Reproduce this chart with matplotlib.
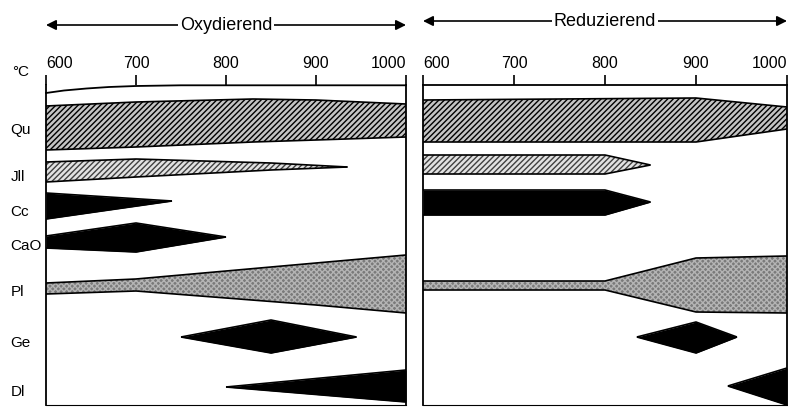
import matplotlib
matplotlib.use("Agg")
import matplotlib.pyplot as plt

plt.rcParams['font.family'] = ['Liberation Sans Narrow', 'Liberation Sans', 'DejaVu Sans']
plt.rcParams['hatch.linewidth'] = 1.0

# temperature axis
temps = [600, 700, 800, 900, 1000]
panel_titles = ["Oxydierend", "Reduzierend"]
phases = ["Qu", "Jll", "Cc", "CaO", "Pl", "Ge", "Dl"]
phase_rows = [45, 92, 127, 161, 207, 258, 307]

# band outlines, y = distance below top line (0 top, 320 bottom)
# oxydierend
qu_ox_t = [600, 700, 830, 900, 1000]
qu_ox_top = [21, 17, 14, 15, 19]
qu_ox_bot = [65, 62, 57, 55, 52]
jll_ox_t = [600, 700, 850, 935]
jll_ox_top = [77, 74, 78, 82]
jll_ox_bot = [97, 92, 85, 82]
cc_ox_t = [600, 740]
cc_ox_top = [108, 116]
cc_ox_bot = [134, 116]
cao_ox_t = [600, 700, 800]
cao_ox_top = [151, 138, 152]
cao_ox_bot = [163, 167, 152]
pl_ox_t = [600, 700, 800, 900, 1000]
pl_ox_top = [198, 194, 186, 178, 170]
pl_ox_bot = [209, 206, 213, 220, 228]
ge_ox_t = [750, 850, 945]
ge_ox_top = [252, 235, 252]
ge_ox_bot = [252, 268, 252]
dl_ox_t = [800, 1000]
dl_ox_top = [302, 285]
dl_ox_bot = [302, 317]
top_curve_t = [600, 620, 645, 670, 700, 750, 1000]
top_curve_y = [8, 5.5, 3.5, 2, 1, 0.3, 0.3]

# reduzierend
qu_red_t = [600, 900, 1000]
qu_red_top = [15, 13, 22]
qu_red_bot = [57, 57, 44]
jll_red_t = [600, 800, 850]
jll_red_top = [70, 70, 80]
jll_red_bot = [89, 89, 80]
cc_red_t = [600, 800, 850]
cc_red_top = [105, 105, 117]
cc_red_bot = [130, 130, 117]
pl_red_t = [600, 800, 900, 1000]
pl_red_top = [196, 196, 173, 171]
pl_red_bot = [205, 205, 227, 228]
ge_red_t = [835, 900, 945]
ge_red_top = [252, 237, 252]
ge_red_bot = [252, 268, 252]
dl_red_t = [935, 1000]
dl_red_top = [301, 283]
dl_red_bot = [301, 320]

styles = {
    "Qu": dict(facecolor="#c4c4c4", edgecolor="black", hatch="//////"),
    "Jll": dict(facecolor="#e2e2e2", edgecolor="#404040", hatch="//////"),
    "Pl": dict(facecolor="#7a7a7a", edgecolor="#b4b4b4", hatch="xxxxxx"),
    "solid": dict(facecolor="black", edgecolor="black"),
}


def band(ax, t, top, bot, style):
    ax.fill_between(t, top, bot, linewidth=0, **styles[style])
    ax.plot(t, top, color="black", lw=1.2, solid_capstyle="butt")
    ax.plot(t, bot, color="black", lw=1.2, solid_capstyle="butt")


fig = plt.figure(figsize=(7.88, 4.08), dpi=100)
ax1 = fig.add_axes([46 / 788, 3 / 408, 360 / 788, 320 / 408])
ax2 = fig.add_axes([423 / 788, 3 / 408, 364 / 788, 320 / 408])

band(ax1, qu_ox_t, qu_ox_top, qu_ox_bot, "Qu")
band(ax1, jll_ox_t, jll_ox_top, jll_ox_bot, "Jll")
band(ax1, cc_ox_t, cc_ox_top, cc_ox_bot, "solid")
band(ax1, cao_ox_t, cao_ox_top, cao_ox_bot, "solid")
band(ax1, pl_ox_t, pl_ox_top, pl_ox_bot, "Pl")
band(ax1, ge_ox_t, ge_ox_top, ge_ox_bot, "solid")
band(ax1, dl_ox_t, dl_ox_top, dl_ox_bot, "solid")
ax1.plot(top_curve_t, top_curve_y, color="black", lw=1.3, clip_on=False)

band(ax2, qu_red_t, qu_red_top, qu_red_bot, "Qu")
band(ax2, jll_red_t, jll_red_top, jll_red_bot, "Jll")
band(ax2, cc_red_t, cc_red_top, cc_red_bot, "solid")
band(ax2, pl_red_t, pl_red_top, pl_red_bot, "Pl")
band(ax2, ge_red_t, ge_red_top, ge_red_bot, "solid")
band(ax2, dl_red_t, dl_red_top, dl_red_bot, "solid")

for ax, title, arrow_y in [(ax1, panel_titles[0], -60), (ax2, panel_titles[1], -64)]:
    ax.set_xlim(600, 1000)
    ax.set_ylim(320, 0)
    ax.xaxis.tick_top()
    ax.set_xticks(temps)
    ax.set_xticklabels([str(t) for t in temps], fontsize=11.5)
    ax.get_xticklabels()[0].set_ha("left")
    ax.get_xticklabels()[-1].set_ha("right")
    ax.tick_params(axis="x", direction="out", length=7, width=1.2, pad=3)
    ax.set_yticks([])
    for s in ax.spines.values():
        s.set_linewidth(1.3)
    ax.spines["bottom"].set_linewidth(0.8)
    ax.annotate("", xy=(1000, arrow_y), xytext=(600, arrow_y), xycoords="data",
                annotation_clip=False,
                arrowprops=dict(arrowstyle="<|-|>", color="black", lw=1.2,
                                mutation_scale=15, shrinkA=0, shrinkB=0))
    ax.text(800, arrow_y, title, ha="center", va="center", fontsize=13,
            bbox=dict(facecolor="white", edgecolor="none", pad=1), clip_on=False)

ax1.spines["top"].set_visible(False)

fig.text(12 / 788, 1 - 72 / 408, "°C", fontsize=11, ha="left", va="center")
for name, row in zip(phases, phase_rows):
    ax1.text(-0.098, row, name, transform=ax1.get_yaxis_transform(),
             fontsize=11, ha="left", va="center")

fig.savefig("out.png", dpi=100)
